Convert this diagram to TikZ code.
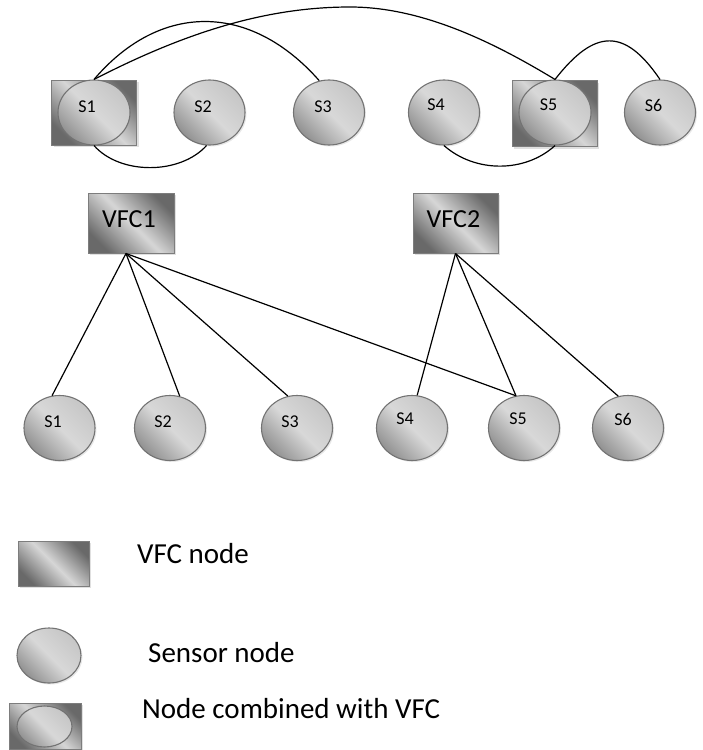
\documentclass[tikz,border=0pt]{standalone}
\usepackage{fontspec}
\setmainfont{Carlito}
\usetikzlibrary{shapes.geometric,shadows}

\definecolor{boxdark}{RGB}{105,105,105}
\definecolor{boxlight}{RGB}{214,214,214}
\definecolor{boxrim}{RGB}{125,125,125}
\definecolor{ovlight}{RGB}{216,216,216}
\definecolor{ovmid}{RGB}{198,198,198}
\definecolor{ovdark}{RGB}{145,145,145}
\definecolor{ovrim}{RGB}{115,115,115}

\tikzset{
  boxshade/.style={rectangle, draw=boxrim, line width=1pt, inner sep=0pt,
    top color=boxdark, bottom color=boxdark, middle color=boxlight, shading angle=-45,
    drop shadow={shadow xshift=2pt, shadow yshift=-2pt, fill=black!20, opacity=0.6}},
  vfcbox/.style={boxshade, minimum width=86pt, minimum height=60pt},
  ovshade/.style={ellipse, draw=ovrim, line width=1.1pt, inner sep=0pt,
    top color=ovmid, bottom color=ovdark, middle color=ovlight, shading angle=-45},
  sensor/.style={ovshade, minimum width=71pt, minimum height=65pt,
    drop shadow={shadow xshift=1.5pt, shadow yshift=-1.5pt, fill=black!15, opacity=0.6}},
  slabel/.style={font=\fontsize{18}{20}\selectfont, inner sep=0pt},
  vlabel/.style={font=\fontsize{26}{28}\selectfont, inner sep=0pt},
  legtext/.style={font=\fontsize{29}{32}\selectfont, inner sep=0pt, anchor=base west},
  link/.style={draw=black, line width=1.2pt},
}

\begin{document}
\begin{tikzpicture}[x=1pt, y=-1pt]
\useasboundingbox (0,0) rectangle (702,750);

% upper row: sensors, two of them acting as VFCs
\node[boxshade, minimum width=85pt, minimum height=65pt] (c1) at (94.3,112.5) {};
\node[ovshade, minimum width=72pt, minimum height=65pt] (t1) at (94,112.5) {};
\node[sensor] (t2) at (209.5,112.5) {};
\node[sensor] (t3) at (329,112.5) {};
\node[sensor] (t4) at (444,112.5) {};
\node[boxshade, minimum width=85pt, minimum height=66pt] (c5) at (554.5,113.5) {};
\node[ovshade, minimum width=72pt, minimum height=65pt] (t5) at (555,112.5) {};
\node[sensor] (t6) at (660,112.5) {};

\node[slabel] (lt1) at (87,107) {S1};
\node[slabel] (lt2) at (203,107) {S2};
\node[slabel] (lt3) at (323,107) {S3};
\node[slabel] (lt4) at (436,105) {S4};
\node[slabel] (lt5) at (548.5,105) {S5};
\node[slabel] (lt6) at (653.5,105) {S6};

% links among the upper row
\draw[link] (t1.north) .. controls (160,2) and (250,2) .. (t3.107);
\draw[link] (t1.north) .. controls (190,30) and (270,7) .. (350,7)
                       .. controls (420,7) and (490,40) .. (t5.north);
\draw[link] (t5.north) .. controls (595,28) and (625,28) .. (t6.north);
\draw[link] (t1.south) .. controls (120,175) and (180,175) .. (t2.265);
\draw[link] (t4.south) .. controls (475,173) and (525,173) .. (t5.south);

% the two VFCs
\node[vfcbox] (vfc1) at (131,223) {};
\node[vfcbox, minimum width=85pt] (vfc2) at (455.5,223) {};
\node[vlabel] (lv1) at (129,219) {VFC1};
\node[vlabel] (lv2) at (453.5,219) {VFC2};

% lower row of sensors
\node[sensor] (b1) at (59.5,428) {};
\node[sensor] (b2) at (170,428) {};
\node[sensor] (b3) at (297,428) {};
\node[sensor] (b4) at (412,428) {};
\node[sensor] (b5) at (524,428) {};
\node[sensor] (b6) at (628,428) {};

\node[slabel] (lb1) at (53,422) {S1};
\node[slabel] (lb2) at (163,422) {S2};
\node[slabel] (lb3) at (290,422) {S3};
\node[slabel] (lb4) at (405,419) {S4};
\node[slabel] (lb5) at (518,419) {S5};
\node[slabel] (lb6) at (623,419) {S6};

% VFC to sensor assignments
\coordinate (v1) at ([xshift=-5pt]vfc1.south);
\draw[link] (v1) -- (b1.103);
\draw[link] (v1) -- (b2.73);
\draw[link] (v1) -- (b3.106);
\draw[link] (v1) -- (b5.104);
\draw[link] (vfc2.south) -- (b4.81);
\draw[link] (vfc2.south) -- (b5.104);
\draw[link] (vfc2.south) -- (b6.107);

% legend
\node[boxshade, minimum width=71pt, minimum height=45pt] (kv) at (53.5,563.5) {};
\node[legtext] (kvt) at (137,563) {VFC node};
\node[ovshade, minimum width=64pt, minimum height=55pt,
      drop shadow={shadow xshift=1.5pt, shadow yshift=-1.5pt, fill=black!15, opacity=0.6}] (ks) at (49,655.5) {};
\node[legtext] (kst) at (148,662) {Sensor node};
\node[boxshade, minimum width=72pt, minimum height=46pt] (kc) at (45,726) {};
\node[ovshade, minimum width=55pt, minimum height=41pt] (kce) at (44.5,726.5) {};
\node[legtext] (kct) at (142,718) {Node combined with VFC};
\end{tikzpicture}
\end{document}
